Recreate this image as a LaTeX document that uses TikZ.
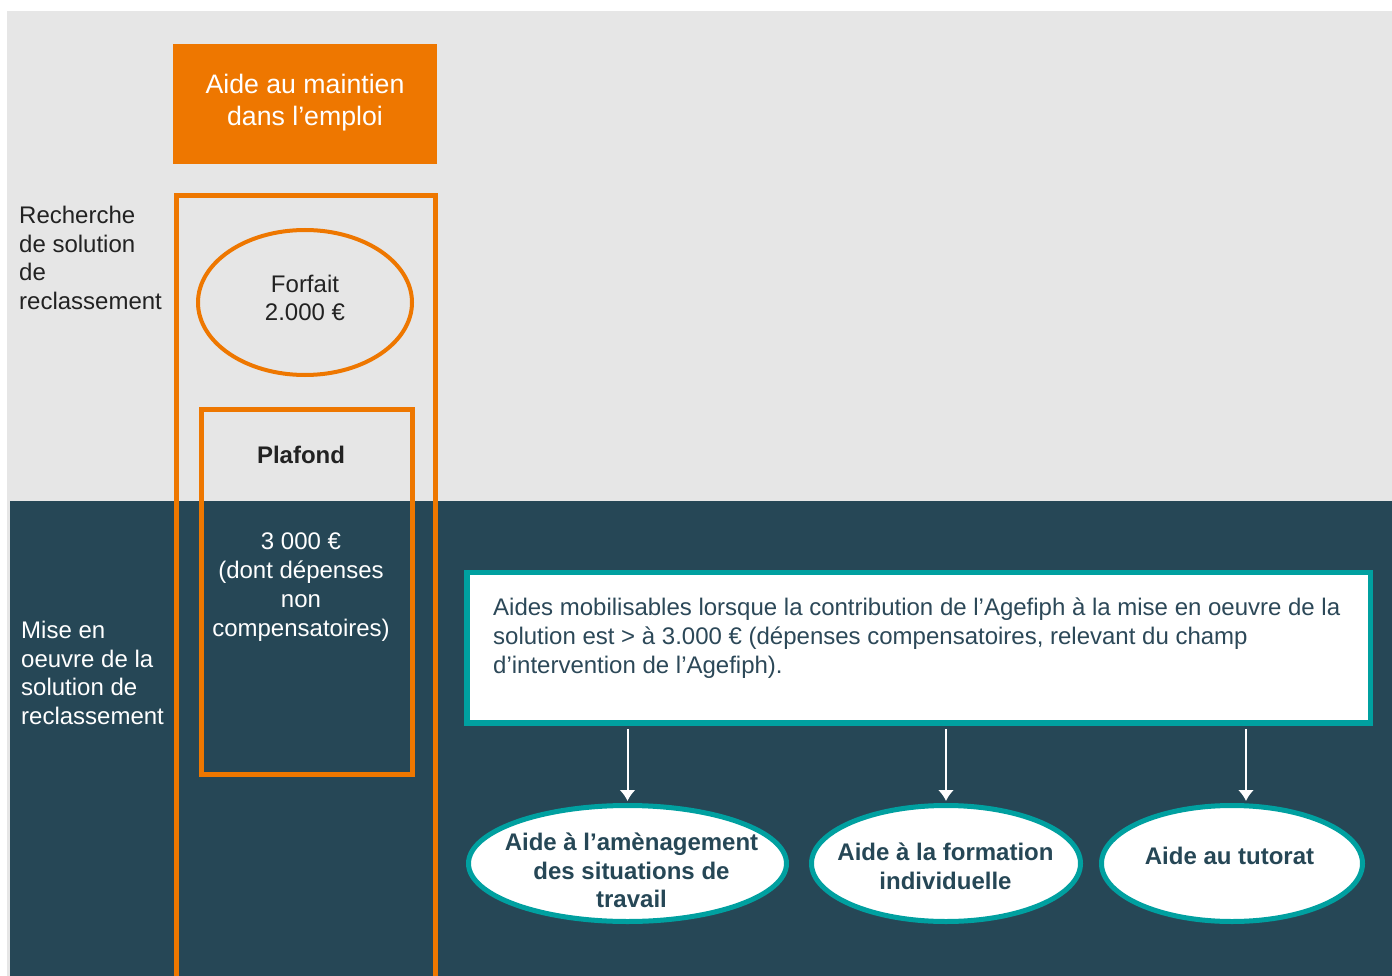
\documentclass[tikz,border=0pt]{standalone}
\usepackage{fontspec}
\setmainfont{Liberation Sans}
\usetikzlibrary{arrows.meta,positioning,shapes.geometric}
\definecolor{agorange}{RGB}{238,119,0}
\definecolor{agdark}{RGB}{38,71,86}
\definecolor{agteal}{RGB}{0,160,160}
\definecolor{aggray}{RGB}{230,230,230}
\definecolor{agtext}{RGB}{34,34,34}
\definecolor{agboxtext}{RGB}{44,72,88}
\tikzset{%
  >={Latex[width=16pt,length=11pt]},
  % Specifications for style of nodes:
           base/.style = {inner sep=0pt, align=center,
                          font=\fontsize{24}{28.7}\selectfont},
       titlebox/.style = {base, rectangle, fill=agorange, text=white,
                          minimum width=264pt, minimum height=120pt,
                          font=\fontsize{26.7}{32}\selectfont},
    orangeframe/.style = {rectangle, draw=agorange, line width=5pt, inner sep=0pt},
     orangeoval/.style = {ellipse, draw=agorange, line width=4pt, inner sep=0pt,
                          minimum width=214pt, minimum height=145pt},
       sidetext/.style = {base, align=left, anchor=west},
        tealbox/.style = {rectangle, draw=agteal, fill=white, line width=5.5pt,
                          minimum width=903.5pt, minimum height=150.5pt},
       tealoval/.style = {ellipse, draw=agteal, fill=white, line width=5pt,
                          inner sep=0pt, minimum height=116pt},
       ovaltext/.style = {base, text=agdark, font=\fontsize{24}{28.7}\selectfont\bfseries},
     whitearrow/.style = {->, draw=white, line width=2pt},
}
\begin{document}
\begin{tikzpicture}[x=1pt, y=-1pt]
  \clip (0,0) rectangle (1392,976);
  % Background bands
  \fill[aggray] (7,11) rectangle (1392,976);
  \fill[agdark] (10,501) rectangle (1392,976);

  % Specification of nodes (position, etc.)
  \node (maintien)		[titlebox, text depth=9pt] at (305,104) {Aide au maintien\\dans l’emploi};
  \draw[orangeframe]		(176.5,195.5) rectangle (435.5,1000);

  \node (recherche)		[sidetext, text=agtext] at (19,258) {Recherche\\de solution\\de\\reclassement};
  \node (miseenoeuvre)		[sidetext, text=white] at (21,673) {Mise en\\oeuvre de la\\solution de\\reclassement};

  \node (forfait)		[orangeoval] at (305,302.5) {};
  \node (forfaittext)		[base, text=agtext] at ([yshift=4.5pt]forfait.center) {Forfait\\2.000 €};

  \node (plafond)		[orangeframe, minimum width=211pt, minimum height=365pt] at (306.5,592) {};
  \node (plafondtitle)		[base, text=agtext, font=\fontsize{24}{28.7}\selectfont\bfseries,
				 below=38.5pt of plafond.north, xshift=-5.5pt] {Plafond};
  \node (plafondtext)		[base, text=white, font=\fontsize{24}{29}\selectfont,
				 below=69.5pt of plafondtitle] {3 000 €\\(dont dépenses\\non\\compensatoires)};

  \node (mobilisables)		[tealbox] at (918.75,647.75) {};
  \node (mobilisablestext)	[sidetext, text=agboxtext] at (493,638)
    {Aides mobilisables lorsque la contribution de l’Agefiph à la mise en oeuvre de la\\
     solution est > à 3.000 € (dépenses compensatoires, relevant du champ\\
     d’intervention de l’Agefiph).};

  \node (amenagement)		[tealoval, minimum width=318pt] at (627.5,863.5) {};
  \node (formation)		[tealoval, minimum width=269pt] at (946,863.5) {};
  \node (tutorat)		[tealoval, minimum width=261pt] at (1232,863.5) {};
  \node (amenagementtext)	[ovaltext] at (631.5,870.5) {Aide à l’amènagement\\des situations de\\travail};
  \node (formationtext)		[ovaltext] at (945.5,866) {Aide à la formation\\individuelle};
  \node (tutorattext)		[ovaltext] at (1229.5,856) {Aide au tutorat};

  \draw[whitearrow, shorten <=3pt, shorten >=2pt]	(mobilisables.south -| amenagement.north) -- (amenagement.north);
  \draw[whitearrow, shorten <=3pt, shorten >=2pt]	(mobilisables.south -| formation.north) -- (formation.north);
  \draw[whitearrow, shorten <=3pt, shorten >=2pt]	(mobilisables.south -| tutorat.north) ++(14,0) -- ([xshift=14pt]tutorat.north);

\end{tikzpicture}
\end{document}
